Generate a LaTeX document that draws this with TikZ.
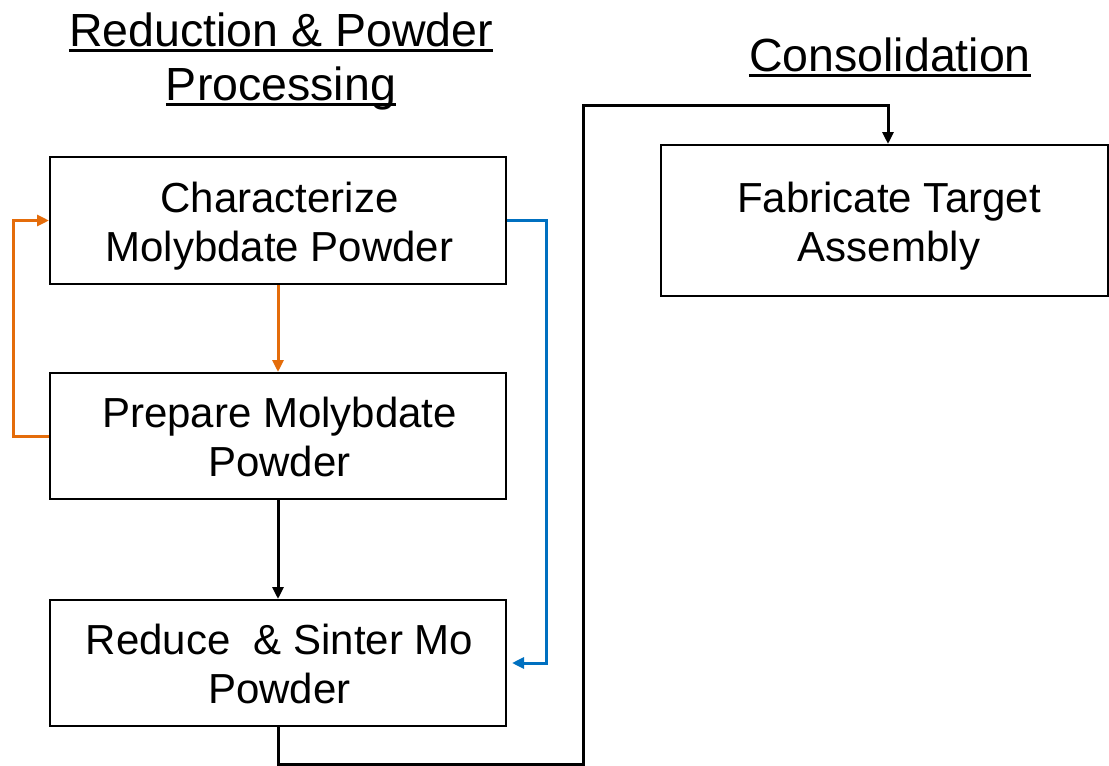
\documentclass[tikz,border=0pt]{standalone}
\usepackage{fontspec}
\setmainfont{Liberation Sans}
\usetikzlibrary{arrows.meta}
\definecolor{orng}{HTML}{E46C0A}
\definecolor{blu}{HTML}{0070C0}
\begin{document}
\begin{tikzpicture}[x=1pt,y=-1pt,
  box/.style={draw=black,line width=2pt,inner sep=0pt},
  txt/.style={inner sep=0pt,align=center,font=\fontsize{42}{49}\selectfont},
  ttl/.style={inner sep=0pt,anchor=base,font=\fontsize{46.5}{54}\selectfont},
  uline/.style={line width=2.6pt},
  conn/.style={line width=3pt,-{Triangle[length=12pt,width=11pt]}}]
\useasboundingbox (0,0) rectangle (1109,766);
% titles
\node[ttl] (t1) at (281,46) {Reduction \& Powder};
\node[ttl] (t2) at (281,100) {Processing};
\node[ttl] (t3) at (890,71) {Consolidation};
\foreach \t in {t1,t2,t3}
  \draw[uline] ([yshift=-4.5pt]\t.base west) -- ([yshift=-4.5pt]\t.base east);
% boxes
\node[box,minimum width=456pt,minimum height=127pt] (b1) at (278,220.5) {};
\node[box,minimum width=456pt,minimum height=126pt] (b2) at (278,436) {};
\node[box,minimum width=456pt,minimum height=126pt] (b3) at (278,663) {};
\node[box,minimum width=447pt,minimum height=151pt] (b4) at (884.5,220.5) {};
\node[txt] (l1) at ([shift={(1.5,6)}]b1.center) {Characterize\\Molybdate Powder};
\node[txt] (l2) at ([shift={(1.5,1)}]b2.center) {Prepare Molybdate\\Powder};
\node[txt] (l3) at ([shift={(1.5,1)}]b3.center) {Reduce\space\space\& Sinter Mo\\Powder};
\node[txt] (l4) at ([shift={(4.5,6)}]b4.center) {Fabricate Target\\Assembly};
% connectors
\draw[conn,orng] (b1.south) -- (b2.north);
\draw[conn,orng] (b2.west) -- ++(-36,0) |- (b1.west);
\draw[conn,blu,shorten >=5pt] (b1.east) -- ++(39,0) |- (b3.east);
\draw[conn] (b2.south) -- (b3.north);
\coordinate (c1) at (583,764);
\coordinate (c2) at (583,105);
\draw[conn] (b3.south) |- (c1) -- (c2) -| ([xshift=3.5pt]b4.north);
\end{tikzpicture}
\end{document}
